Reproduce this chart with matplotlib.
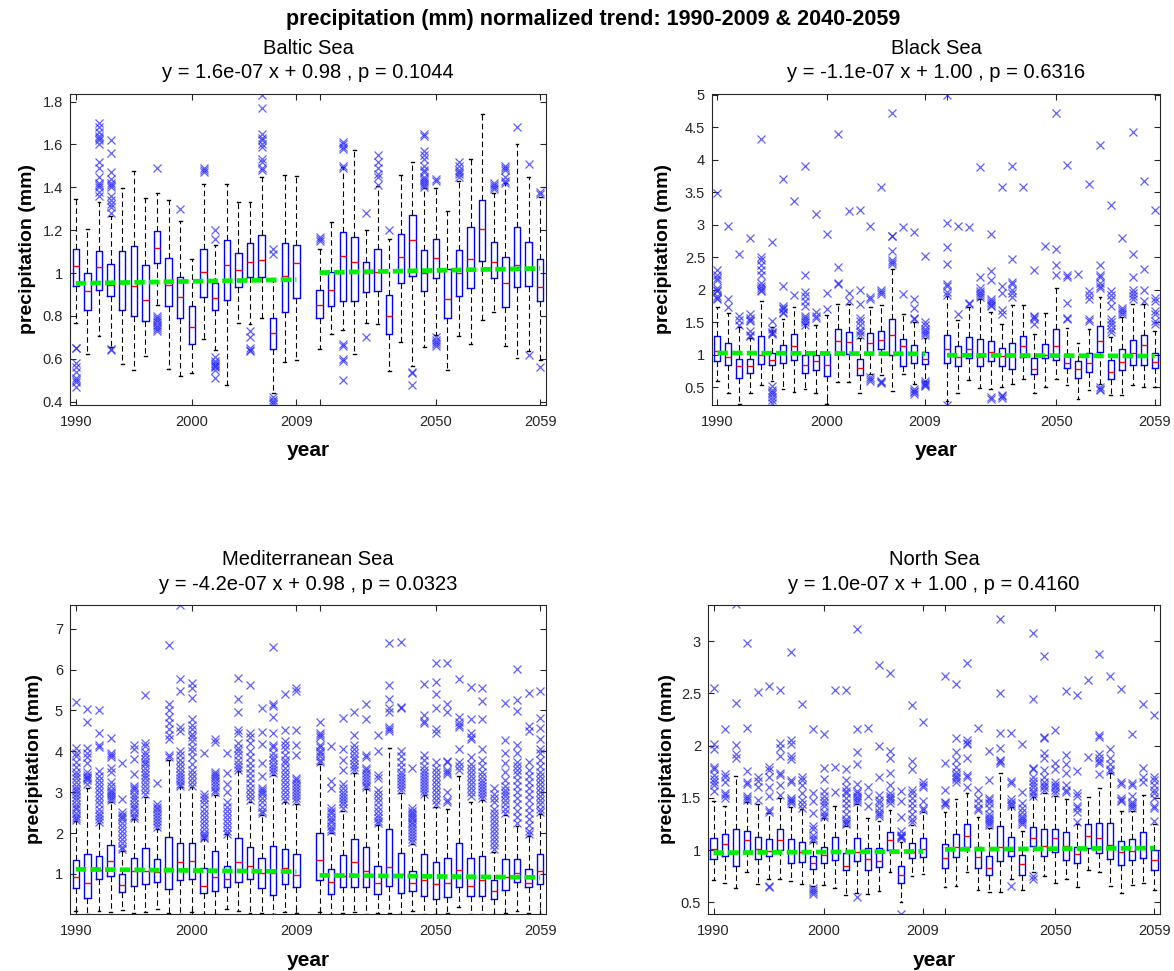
# Normalized precipitation boxplots for four seas, 1990-2009 and 2040-2059.
import matplotlib
matplotlib.use("Agg")
import matplotlib.pyplot as plt
from matplotlib.ticker import FormatStrFormatter

plt.rcParams['font.family'] = ['Liberation Sans', 'DejaVu Sans']

# Years shown (two 20-year periods).
years = list(range(1990, 2010)) + list(range(2040, 2060))
trend_years = [1990, 2009, 2040, 2059]
tick_years = [1990, 2000, 2009, 2040, 2050, 2059]
tick_labels = ['1990', '2000', '2009', '', '2050', '2059']

# ---------------- Baltic Sea ----------------
baltic_q1 = [0.938, 0.829, 0.922, 0.891, 0.826, 0.798, 0.775, 1.048, 0.846, 0.792,
             0.668, 0.890, 0.826, 0.876, 0.935, 0.981, 0.981, 0.645, 0.819, 0.884,
             0.792, 0.845, 0.868, 0.868, 0.912, 0.916, 0.718, 0.953, 0.986, 0.916,
             0.977, 0.791, 0.891, 0.932, 1.056, 0.977, 0.842, 0.935, 0.938, 0.868]
baltic_med = [1.033, 0.916, 1.028, 0.946, 0.955, 0.940, 0.873, 1.118, 0.946, 0.890,
              0.749, 1.005, 0.884, 1.039, 1.016, 1.053, 1.059, 0.722, 0.986, 1.047,
              0.850, 0.922, 1.079, 1.054, 1.000, 1.005, 0.798, 1.076, 1.152, 1.000,
              1.070, 0.881, 1.000, 1.065, 1.205, 1.054, 0.953, 1.040, 1.020, 0.935]
baltic_q3 = [1.113, 1.000, 1.102, 1.043, 1.102, 1.124, 1.036, 1.195, 1.070, 0.981,
             0.848, 1.112, 0.953, 1.155, 1.096, 1.140, 1.178, 0.791, 1.140, 1.133,
             0.922, 1.005, 1.190, 1.167, 1.054, 1.113, 0.900, 1.183, 1.271, 1.109,
             1.157, 1.020, 1.109, 1.217, 1.341, 1.144, 1.074, 1.214, 1.144, 1.064]
baltic_lo = [0.767, 0.625, 0.705, 0.656, 0.578, 0.547, 0.612, 0.850, 0.553, 0.519,
             0.532, 0.695, 0.640, 0.478, 0.767, 0.764, 0.792, 0.439, 0.586, 0.594,
             0.645, 0.718, 0.733, 0.625, 0.767, 0.764, 0.543, 0.679, 0.567, 0.656,
             0.710, 0.547, 0.705, 0.671, 0.780, 0.819, 0.660, 0.606, 0.637, 0.597]
baltic_hi = [1.347, 1.205, 1.333, 1.267, 1.395, 1.477, 1.349, 1.372, 1.341, 1.242,
             1.067, 1.415, 1.129, 1.417, 1.330, 1.330, 1.446, 0.961, 1.457, 1.454,
             1.113, 1.240, 1.496, 1.575, 1.200, 1.408, 1.160, 1.457, 1.516, 1.398,
             1.395, 1.291, 1.431, 1.532, 1.741, 1.372, 1.419, 1.602, 1.446, 1.353]
baltic_out = [
    [0.65, 0.65, 0.58, 0.56, 0.54, 0.51, 0.50, 0.49, 0.47], [],
    [1.70, 1.68, 1.66, 1.64, 1.63, 1.62, 1.60, 1.52, 1.49, 1.45, 1.42, 1.41, 1.40, 1.38, 1.36],
    [1.62, 1.56, 1.47, 1.44, 1.42, 1.41, 1.40, 1.36, 1.34, 1.32, 1.31, 1.28, 0.645, 0.64],
    [], [], [], [1.49, 0.80, 0.79, 0.78, 0.77, 0.76, 0.75, 0.74, 0.73], [], [1.30],
    [], [1.49, 1.48, 1.47], [1.20, 1.16, 0.61, 0.59, 0.58, 0.57, 0.565, 0.56, 0.55, 0.51],
    [], [], [0.73, 0.70, 0.65, 0.64, 0.635],
    [1.83, 1.77, 1.65, 1.63, 1.62, 1.60, 1.59, 1.53, 1.52, 1.49, 1.48],
    [1.11, 1.09, 0.42, 0.41, 0.40, 0.39], [], [],
    [1.17, 1.16, 1.15], [], [1.61, 1.60, 1.59, 1.58, 1.50, 1.49, 0.67, 0.66, 0.60, 0.59, 0.50],
    [], [1.28, 0.70], [1.55, 1.52, 1.49, 1.46, 1.45, 1.41], [1.20], [], [0.54, 0.535, 0.48],
    [1.65, 1.64, 1.57, 1.55, 1.53, 1.50, 1.48, 1.47, 1.45, 1.44, 1.43, 1.42, 1.41, 1.40],
    [1.44, 1.43, 0.70, 0.69, 0.68, 0.67, 0.66], [], [1.52, 1.50, 1.48, 1.47, 1.46, 1.45],
    [], [], [1.42, 1.41, 1.40, 1.39], [1.50, 1.49, 1.48, 1.45, 1.43, 1.42], [1.68],
    [1.51, 0.62], [1.38, 1.37, 0.56]]
baltic_trend = [0.952, 0.970, 1.002, 1.022]

# ---------------- Black Sea ----------------
black_q1 = [0.896, 0.834, 0.639, 0.716, 0.855, 0.834, 0.876, 0.912, 0.716, 0.757,
            0.670, 1.014, 1.014, 0.690, 1.014, 1.092, 0.989, 0.824, 0.876, 0.860,
            0.876, 0.824, 0.948, 0.824, 0.896, 0.824, 0.783, 0.960, 0.706, 0.948,
            0.912, 0.793, 0.644, 0.731, 1.040, 0.628, 0.757, 0.844, 0.844, 0.798]
black_med = [1.056, 0.963, 0.824, 0.824, 1.000, 0.922, 1.025, 1.133, 0.845, 0.896,
             0.845, 1.210, 1.194, 0.793, 1.184, 1.220, 1.308, 1.133, 1.025, 0.937,
             1.081, 0.963, 1.081, 0.970, 1.040, 0.973, 0.980, 1.140, 0.783, 1.000,
             1.133, 0.876, 0.773, 0.876, 1.210, 0.731, 0.885, 1.029, 1.142, 0.885]
black_q3 = [1.282, 1.184, 0.937, 0.927, 1.282, 1.025, 1.143, 1.313, 0.989, 0.999,
            1.014, 1.390, 1.349, 0.937, 1.333, 1.364, 1.555, 1.236, 1.143, 1.040,
            1.297, 1.133, 1.272, 1.246, 1.210, 1.102, 1.184, 1.280, 0.948, 1.169,
            1.390, 1.004, 0.901, 1.030, 1.441, 0.911, 1.090, 1.229, 1.306, 1.029]
black_lo = [0.587, 0.413, 0.243, 0.413, 0.526, 0.600, 0.474, 0.423, 0.474, 0.413,
            0.243, 0.577, 0.577, 0.413, 0.700, 0.680, 0.433, 0.706, 0.550, 0.600,
            0.294, 0.413, 0.613, 0.485, 0.464, 0.500, 0.551, 0.629, 0.413, 0.500,
            0.629, 0.526, 0.320, 0.459, 0.550, 0.372, 0.372, 0.526, 0.500, 0.500]
black_hi = [1.735, 1.647, 1.426, 1.250, 1.832, 1.426, 1.555, 1.735, 1.477, 1.462,
            1.606, 1.786, 1.786, 1.250, 1.735, 1.760, 2.310, 1.632, 1.503, 1.250,
            1.904, 1.529, 1.735, 1.853, 1.657, 1.477, 1.770, 1.760, 1.323, 1.647,
            2.028, 1.416, 1.184, 1.400, 1.889, 1.270, 1.580, 1.774, 1.774, 1.358]
black_out = [
    [3.49, 2.30, 2.22, 2.18, 2.15, 2.02, 2.00, 1.98, 1.90, 1.87, 1.85], [2.98, 1.85, 1.73],
    [2.55, 1.60, 1.53, 1.46], [2.80, 1.63, 1.56, 1.53, 1.52, 1.36, 1.30, 1.28],
    [4.32, 2.50, 2.45, 2.38, 2.30, 2.22, 2.10, 2.05, 2.02, 2.00, 1.98],
    [2.73, 1.52, 1.40, 1.35, 1.33, 1.32, 0.52, 0.45, 0.42, 0.40, 0.35, 0.30, 0.25],
    [3.70, 2.05, 1.75, 1.72, 1.70, 1.66, 1.64], [3.37, 1.92],
    [3.90, 2.22, 1.97, 1.90, 1.83, 1.75, 1.60, 1.57, 1.53, 1.50, 1.45], [3.17, 1.65, 1.60, 1.57],
    [2.85, 1.95, 1.70], [4.40, 2.35, 2.10, 2.08], [3.21, 1.95, 1.82],
    [3.23, 2.00, 1.78, 1.57, 1.52, 1.45, 1.38, 1.35, 1.30], [2.98, 1.88, 1.85, 0.65, 0.62, 0.60],
    [3.58, 2.00, 1.97, 1.93, 0.60, 0.58, 0.57], [4.71, 2.83, 2.82, 2.60, 2.45, 2.42, 2.40],
    [2.96, 1.93], [2.89, 1.85, 1.72, 1.57, 1.55, 0.47, 0.44, 0.42, 0.40],
    [2.52, 1.50, 1.45, 1.40, 1.37, 1.33, 1.30, 0.59, 0.57, 0.55, 0.53, 0.51],
    [5.00, 3.02, 2.65, 2.40, 2.08, 2.05, 1.96, 1.92, 0.23], [2.98, 1.62], [2.96, 1.80, 1.78],
    [3.88, 2.20, 2.02, 1.98, 1.95, 1.92, 1.88],
    [2.85, 2.28, 2.15, 1.85, 1.82, 1.80, 1.77, 1.75, 0.35, 0.32],
    [3.58, 2.05, 1.95, 1.68, 1.62, 0.38, 0.36, 0.34], [3.90, 2.47, 2.12, 2.08, 2.00, 1.95, 1.88],
    [3.58], [2.30, 1.60, 1.58, 1.55, 1.47], [2.67], [4.72, 2.63, 2.38, 2.23],
    [3.92, 2.22, 2.20, 1.80, 1.57, 1.55], [2.24], [3.62, 1.98, 1.92, 1.85, 1.55, 1.52],
    [4.23, 2.38, 2.23, 2.20, 2.10, 2.05, 2.02, 0.50, 0.47, 0.45],
    [3.30, 1.98, 1.92, 1.85, 1.75, 1.55, 1.50, 1.45, 1.40, 1.35], [2.80, 1.72, 1.68, 1.65, 1.62],
    [4.42, 2.55, 2.20, 2.00, 1.95, 1.90, 1.85], [3.67, 2.32, 2.00, 1.82],
    [3.23, 1.87, 1.82, 1.67, 1.63, 1.52, 1.47]]
black_trend = [1.025, 1.012, 0.991, 0.978]

# ---------------- Mediterranean Sea ----------------
med_q1 = [0.65, 0.41, 0.88, 0.96, 0.55, 0.70, 0.755, 0.81, 0.62, 0.85,
          0.88, 0.54, 0.59, 0.67, 0.80, 0.88, 0.65, 0.49, 0.755, 0.67,
          0.85, 0.51, 0.69, 0.69, 0.69, 0.51, 0.71, 0.54, 0.58, 0.47,
          0.38, 0.43, 0.67, 0.46, 0.46, 0.39, 0.61, 0.80, 0.67, 0.755]
med_med = [0.935, 0.77, 1.10, 1.31, 0.73, 1.08, 1.08, 1.05, 1.14, 1.29,
           1.31, 0.715, 0.92, 0.88, 1.29, 1.19, 1.02, 1.03, 1.15, 0.98,
           1.33, 0.80, 0.95, 1.29, 1.06, 0.77, 1.18, 1.00, 0.79, 0.85,
           0.76, 0.79, 1.10, 0.715, 0.86, 0.59, 0.92, 1.02, 0.77, 1.06]
med_q3 = [1.34, 1.49, 1.45, 1.72, 1.00, 1.39, 1.63, 1.37, 1.90, 1.76,
          1.76, 1.15, 1.55, 1.20, 1.88, 1.65, 1.39, 1.68, 1.60, 1.49,
          2.01, 1.11, 1.46, 1.85, 1.67, 1.20, 2.09, 1.52, 1.07, 1.49,
          1.29, 1.38, 1.75, 1.38, 1.44, 0.84, 1.37, 1.37, 1.11, 1.49]
med_lo = [0.10, 0.03, 0.10, 0.08, 0.12, 0.05, 0.07, 0.15, 0.05, 0.02,
          0.06, 0.03, 0.02, 0.15, 0.10, 0.05, 0.05, 0.03, 0.07, 0.05,
          0.06, 0.02, 0.04, 0.06, 0.03, 0.04, 0.04, 0.03, 0.10, 0.02,
          0.02, 0.05, 0.18, 0.03, 0.02, 0.02, 0.04, 0.09, 0.04, 0.03]
med_hi = [2.29, 3.10, 2.24, 2.77, 1.555, 2.35, 2.89, 2.10, 3.80, 3.12,
          3.12, 1.85, 2.92, 1.98, 3.51, 2.75, 2.43, 3.41, 2.77, 2.70,
          3.70, 2.01, 2.55, 3.46, 3.07, 2.20, 4.09, 2.99, 1.73, 2.93,
          2.63, 2.60, 3.40, 2.77, 2.82, 1.53, 2.43, 2.18, 1.94, 2.47]
med_out = [
    [5.20, 4.07, 3.95, 3.88, 3.75, 3.62, 3.50, 3.42, 3.35, 3.25, 3.15, 3.08, 3.02, 2.95, 2.88,
     2.80, 2.72, 2.65, 2.58, 2.50, 2.42, 2.36, 2.33],
    [5.03, 4.72, 4.07, 3.95, 3.85, 3.72, 3.50, 3.42, 3.38, 3.35, 3.30, 3.20],
    [5.00, 4.45, 4.15, 4.10, 3.52, 3.40, 3.30, 3.20, 3.10, 3.00, 2.90, 2.80, 2.70, 2.60, 2.50,
     2.42, 2.35, 2.28],
    [4.32, 3.95, 3.90, 3.85, 3.60, 3.50, 3.25, 3.15, 3.05, 3.00, 2.95, 2.90, 2.85, 2.80],
    [3.72, 2.83, 2.52, 2.45, 2.40, 2.35, 2.25, 2.15, 2.05, 1.95, 1.85, 1.75, 1.65, 1.60],
    [4.15, 4.05, 3.82, 3.45, 3.15, 3.10, 3.05, 2.95, 2.88, 2.80, 2.72, 2.65, 2.58, 2.50, 2.42, 2.38],
    [5.38, 4.20, 4.12, 3.98, 3.90, 3.82, 3.75, 3.68, 3.60, 3.50, 3.42, 3.35, 3.25, 3.15, 3.05, 2.95],
    [3.22, 2.70, 2.65, 2.60, 2.52, 2.45, 2.38, 2.30, 2.22, 2.15],
    [6.60, 5.15, 5.00, 4.85, 4.70, 4.55, 4.40, 4.30, 3.90, 3.85],
    [7.57, 5.78, 5.48, 4.60, 4.50, 4.00, 3.90, 3.80, 3.70, 3.60, 3.50, 3.42, 3.35, 3.28, 3.20, 3.15],
    [5.68, 5.55, 5.30, 4.78, 4.65, 4.55, 4.42, 4.35, 4.25, 4.10, 4.00, 3.85, 3.70, 3.55, 3.45,
     3.35, 3.25, 3.15],
    [3.97, 2.95, 2.88, 2.80, 2.70, 2.60, 2.50, 2.40, 2.30, 2.20, 2.10, 2.00, 1.95, 1.90, 1.87],
    [4.30, 4.22, 3.50, 3.45, 3.40, 3.35, 3.28, 3.20, 3.12, 3.05, 3.00],
    [3.95, 3.48, 3.20, 3.00, 2.75, 2.65, 2.55, 2.45, 2.35, 2.25, 2.15, 2.05, 1.98],
    [5.80, 5.28, 4.97, 4.52, 4.45, 4.20, 4.08, 4.00, 3.90, 3.80, 3.70, 3.62, 3.55],
    [5.63, 4.45, 4.35, 4.20, 4.00, 3.85, 3.72, 3.60, 3.48, 3.35, 3.22, 3.10, 3.00, 2.90, 2.80],
    [5.05, 4.48, 4.17, 3.72, 3.40, 3.10, 3.05, 3.00, 2.95, 2.85, 2.75, 2.65, 2.55, 2.48],
    [6.55, 5.15, 5.10, 4.85, 4.45, 4.15, 4.10, 3.95, 3.85, 3.78, 3.70, 3.62, 3.55, 3.48],
    [5.40, 4.52, 4.25, 4.15, 4.05, 3.90, 3.80, 3.72, 3.60, 3.50, 3.40, 3.30, 3.20, 3.10, 3.00,
     2.90, 2.82],
    [5.55, 5.48, 4.53, 4.15, 3.92, 3.35, 3.30, 3.22, 3.15, 3.08, 3.00, 2.92, 2.85, 2.78],
    [4.72, 4.45, 4.40, 4.35, 4.15, 4.10, 4.02, 3.95, 3.88, 3.80, 3.74],
    [4.12, 3.28, 3.10, 2.62, 2.55, 2.48, 2.40, 2.33, 2.26, 2.18, 2.10, 2.04],
    [4.82, 4.05, 3.80, 3.55, 3.20, 3.10, 3.00, 2.92, 2.85, 2.78, 2.70, 2.62],
    [4.95, 4.40, 4.15, 4.05, 3.95, 3.85, 3.78, 3.70, 3.62, 3.55],
    [5.17, 4.80, 3.90, 3.85, 3.60, 3.55, 3.48, 3.40, 3.32, 3.25, 3.18, 3.12],
    [4.40, 4.02, 3.43, 3.35, 3.05, 2.95, 2.85, 2.75, 2.65, 2.55, 2.45, 2.38, 2.30, 2.25],
    [6.65, 5.62, 5.28, 5.05, 4.95, 4.60, 4.55, 4.50],
    [6.68, 5.08, 5.05, 4.00, 3.88, 3.75, 3.62, 3.50, 3.42, 3.35, 3.28, 3.20, 3.12, 3.05],
    [3.58, 2.62, 2.55, 2.50, 2.45, 2.40, 2.35, 2.28, 2.22, 2.15, 2.08, 2.00, 1.92, 1.85, 1.78],
    [5.65, 4.88, 4.75, 4.70, 3.90, 3.80, 3.65, 3.55, 3.48, 3.40, 3.32, 3.25, 3.18, 3.10, 3.02, 2.95],
    [6.15, 5.70, 5.40, 5.05, 4.55, 4.45, 3.75, 3.60, 3.50, 3.40, 3.30, 3.20, 3.10, 3.00, 2.90,
     2.80, 2.70],
    [6.15, 5.17, 4.95, 3.77, 3.75, 3.55, 3.50, 3.45, 3.00, 2.80, 2.75],
    [5.78, 4.85, 4.72, 4.65, 4.60, 4.05, 3.75, 3.65, 3.55],
    [5.58, 4.78, 4.45, 4.35, 4.30, 3.85, 3.70, 3.60, 3.50, 3.40, 3.30, 3.20, 3.10, 3.00, 2.90],
    [5.55, 5.22, 4.78, 4.05, 3.78, 3.65, 3.50, 3.40, 3.30, 3.22, 3.15, 3.08, 3.00, 2.92, 2.85],
    [3.10, 2.95, 2.85, 2.75, 2.60, 2.50, 2.40, 2.30, 2.20, 2.10, 2.00, 1.90, 1.80, 1.70, 1.60],
    [5.18, 4.27, 3.95, 3.72, 3.50, 3.30, 3.15, 3.05, 2.98, 2.90, 2.80, 2.70, 2.60, 2.50],
    [6.02, 5.25, 4.98, 4.15, 3.95, 3.75, 3.65, 3.55, 3.45, 3.30, 3.15, 3.00, 2.85, 2.70, 2.55,
     2.40, 2.25],
    [5.42, 4.62, 4.50, 3.75, 3.55, 3.40, 3.25, 3.10, 2.95, 2.80, 2.65, 2.50, 2.35, 2.20, 2.05, 1.97],
    [5.47, 4.82, 4.57, 4.30, 4.05, 3.95, 3.80, 3.65, 3.50, 3.40, 3.30, 3.20, 3.10, 3.00, 2.90,
     2.80, 2.70, 2.60, 2.52]]
med_trend = [1.115, 1.057, 0.967, 0.915]

# ---------------- North Sea ----------------
north_q1 = [0.914, 0.940, 0.853, 0.997, 0.914, 0.940, 1.003, 0.876, 0.885, 0.818,
            0.876, 0.908, 0.812, 0.898, 0.812, 0.838, 1.003, 0.685, 0.930, 0.933,
            0.834, 0.933, 1.029, 0.828, 0.764, 0.898, 0.946, 0.764, 1.045, 0.946,
            0.981, 0.908, 0.876, 1.019, 0.971, 0.913, 0.859, 0.903, 0.922, 0.811]
north_med = [1.013, 1.057, 0.980, 1.099, 1.010, 0.990, 1.099, 0.980, 0.980, 0.876,
             0.955, 0.990, 0.853, 0.980, 0.914, 0.901, 1.099, 0.764, 0.981, 1.013,
             0.924, 1.035, 1.137, 0.933, 0.834, 1.030, 0.995, 0.869, 1.115, 1.040,
             1.115, 1.045, 0.965, 1.137, 1.115, 1.050, 0.986, 0.992, 1.020, 0.907]
north_q3 = [1.121, 1.153, 1.200, 1.185, 1.131, 1.105, 1.200, 1.105, 1.076, 0.940,
            1.035, 1.124, 0.978, 1.115, 1.019, 1.019, 1.172, 0.853, 1.067, 1.115,
            1.057, 1.156, 1.248, 1.035, 0.946, 1.236, 1.131, 0.955, 1.220, 1.200,
            1.200, 1.178, 1.035, 1.248, 1.258, 1.256, 1.088, 1.104, 1.173, 1.002]
north_lo = [0.717, 0.691, 0.637, 0.796, 0.678, 0.723, 0.723, 0.710, 0.678, 0.660,
            0.669, 0.637, 0.567, 0.589, 0.580, 0.611, 0.790, 0.500, 0.755, 0.774,
            0.646, 0.662, 0.787, 0.621, 0.599, 0.599, 0.723, 0.621, 0.790, 0.755,
            0.691, 0.723, 0.646, 0.812, 0.796, 0.659, 0.589, 0.668, 0.684, 0.621]
north_hi = [1.471, 1.427, 1.710, 1.459, 1.443, 1.354, 1.497, 1.417, 1.392, 1.080,
            1.306, 1.424, 1.232, 1.443, 1.306, 1.283, 1.385, 1.080, 1.242, 1.370,
            1.363, 1.490, 1.551, 1.315, 1.210, 1.742, 1.417, 1.185, 1.513, 1.545,
            1.519, 1.487, 1.252, 1.513, 1.592, 1.739, 1.374, 1.374, 1.532, 1.247]
north_out = [
    [2.55, 2.02, 1.97, 1.80, 1.78, 1.72, 1.68, 1.65, 1.62, 1.57], [2.16, 1.73, 1.70, 1.65, 1.55, 1.53, 1.50],
    [3.35, 2.41, 2.01, 1.92, 1.88], [2.98, 2.17, 1.76, 1.65, 1.63, 1.52, 1.50, 1.48],
    [2.51, 1.70, 1.66, 1.60, 1.48], [2.57, 1.80, 1.77, 1.70, 1.60, 1.52, 1.38, 1.37, 0.66, 0.65],
    [2.53, 2.03, 1.98, 1.90, 1.74, 1.72, 1.62, 1.53],
    [2.90, 2.05, 2.02, 1.90, 1.87, 1.67, 1.65, 1.50, 1.48, 1.47, 1.45],
    [2.40, 1.70, 1.67, 1.62, 1.55, 1.48, 1.44, 1.40],
    [2.16, 1.55, 1.47, 1.36, 1.23, 1.20, 1.15, 1.12, 1.10, 0.64, 0.62, 0.60, 0.58],
    [2.11, 1.79, 1.68, 1.57, 1.52, 1.48, 1.45, 1.42, 1.37, 1.34, 1.32], [2.53, 1.80, 1.56],
    [2.53, 1.78, 1.67, 1.60, 1.57, 1.55, 1.50, 1.45, 1.40, 1.35, 1.30, 1.28, 1.26, 1.25],
    [3.12, 2.16, 1.94, 1.82, 1.63, 1.57, 1.55, 1.52, 1.50, 1.48, 1.46, 0.55],
    [2.17, 1.60, 1.52, 1.42], [2.77, 2.00, 1.70, 1.53, 1.48, 1.45, 1.40, 1.37, 1.35, 1.33],
    [2.69, 1.95, 1.88, 1.74, 1.62, 1.55, 1.52, 1.50, 1.48, 1.45],
    [1.57, 1.47, 1.32, 1.18, 1.15, 1.14, 1.13, 1.12, 0.39],
    [2.39, 1.85, 1.78, 1.58, 1.55, 1.50, 1.45, 1.40, 1.35, 1.30, 1.27],
    [2.23, 1.65, 1.62, 1.60, 1.47, 1.40, 1.38],
    [2.67, 1.83, 1.58, 1.46, 1.45, 1.43],
    [2.59, 2.07, 1.94, 1.86, 1.80, 1.75, 1.72, 1.70, 1.68, 1.65],
    [2.79, 2.05, 2.03, 2.02, 1.88, 1.72, 1.70, 1.60], [2.17, 1.58, 1.50, 1.45, 1.40, 1.38],
    [1.95, 1.67, 1.50, 1.48, 1.45, 1.40, 1.35, 1.32, 1.30, 1.28, 1.26, 1.24],
    [3.21, 2.50, 2.12, 1.98, 1.86, 1.85, 1.83], [2.12, 1.66, 1.64, 1.49, 1.46, 1.44, 1.42, 0.66],
    [2.02, 1.56, 1.45, 1.40, 1.37, 1.33, 1.31, 1.29, 1.27, 1.25],
    [3.08, 2.45, 1.79, 1.78, 1.70, 1.66, 1.63, 1.60, 1.57, 1.55, 1.52, 0.75, 0.72],
    [2.86, 2.08, 2.07, 1.93, 1.88, 1.77, 1.70, 1.65, 1.62, 1.60, 1.58],
    [2.15, 1.83, 1.78, 1.65, 1.62, 1.60, 1.58, 1.55], [2.52, 1.91, 1.82, 1.74, 1.62, 1.58, 1.56],
    [2.48, 1.76, 1.55, 1.52, 1.42, 1.40, 1.37, 1.27], [2.63, 1.89],
    [2.88, 2.10, 2.08, 1.92, 1.88, 1.85, 1.83, 1.73], [2.67, 1.97, 1.88, 1.82, 1.78, 1.76],
    [2.54, 1.65, 1.63, 1.50, 1.48, 1.47], [2.11, 1.64, 1.62, 1.52, 1.46, 1.44, 1.42, 1.40],
    [2.40, 1.79, 1.70, 1.65], [2.29, 1.70, 1.67, 1.62, 1.58, 1.55, 1.50, 1.42, 1.40, 1.28]]
north_trend = [0.976, 0.988, 1.008, 1.020]


def year_pos(y):
    # boxes are numbered 1..20 for 1990-2009, then one empty slot, 22..41 for 2040-2059
    return y - 1989 if y < 2020 else y - 2040 + 22


fig = plt.figure(figsize=(11.74, 9.71), dpi=100)
W, H = 1174.0, 971.0

panels = [
    ("Baltic Sea", "y = 1.6e-07 x + 0.98 , p = 0.1044",
     baltic_q1, baltic_med, baltic_q3, baltic_lo, baltic_hi, baltic_out, baltic_trend,
     (70, 94, 546, 405), (0.385, 1.835), [0.4, 0.6, 0.8, 1.0, 1.2, 1.4, 1.6, 1.8], 28, 450),
    ("Black Sea", "y = -1.1e-07 x + 1.00 , p = 0.6316",
     black_q1, black_med, black_q3, black_lo, black_hi, black_out, black_trend,
     (712, 94, 1160, 405), (0.225, 5.01), [0.5, 1, 1.5, 2, 2.5, 3, 3.5, 4, 4.5, 5], 664, 450),
    ("Mediterranean Sea", "y = -4.2e-07 x + 0.98 , p = 0.0323",
     med_q1, med_med, med_q3, med_lo, med_hi, med_out, med_trend,
     (70, 605, 546, 914), (0.02, 7.58), [1, 2, 3, 4, 5, 6, 7], 35, 960),
    ("North Sea", "y = 1.0e-07 x + 1.00 , p = 0.4160",
     north_q1, north_med, north_q3, north_lo, north_hi, north_out, north_trend,
     (708, 605, 1160, 914), (0.39, 3.345), [0.5, 1, 1.5, 2, 2.5, 3], 668, 960),
]

edge = '#262626'
for (name, eq, q1, med, q3, lo, hi, out, trend, box, ylim, yticks, ylab_x, xlab_y) in panels:
    x0, y0, x1, y1 = box
    ax = fig.add_axes([x0 / W, 1 - y1 / H, (x1 - x0) / W, (y1 - y0) / H])
    pos = [year_pos(y) for y in years]
    stats = []
    for i in range(len(years)):
        stats.append(dict(q1=q1[i], med=med[i], q3=q3[i], whislo=lo[i], whishi=hi[i],
                          fliers=out[i]))
    ax.bxp(stats, positions=pos, widths=0.55, capwidths=0.25, showfliers=True,
           manage_ticks=False,
           boxprops=dict(color='#0000ff', linewidth=1.0),
           medianprops=dict(color='#ff0000', linewidth=1.0),
           whiskerprops=dict(color='black', linewidth=0.8, linestyle=(0, (5, 3))),
           capprops=dict(color='black', linewidth=1.0),
           flierprops=dict(marker='x', markeredgecolor='#2a2aff', markersize=5.5,
                           markeredgewidth=0.9, alpha=0.75, linestyle='none'))

    # trend line for each period
    tp = [year_pos(y) for y in trend_years]
    for a, b in [(0, 2), (2, 4)]:
        ax.plot(tp[a:b], trend[a:b], color='#00ee00', linewidth=3.4, dashes=(2.2, 0.9),
                dash_capstyle='butt', zorder=5)

    ax.set_xlim(0.5, 41.5)
    ax.set_ylim(*ylim)
    ax.set_xticks([year_pos(y) for y in tick_years])
    ax.set_xticklabels(tick_labels)
    ax.set_yticks(yticks)
    ax.yaxis.set_major_formatter(FormatStrFormatter('%g'))
    ax.tick_params(direction='in', length=4, width=0.8, top=True, right=True,
                   labelsize=10.5, colors=edge, labelcolor=edge)
    ax.tick_params(axis='x', pad=7)
    ax.tick_params(axis='y', pad=5)
    for s in ax.spines.values():
        s.set_color(edge)
        s.set_linewidth(0.8)

    cx = (x0 + x1) / 2.0
    fig.text(cx / W, 1 - (y0 - 46) / H, name, ha='center', va='center', fontsize=14.5)
    fig.text(cx / W, 1 - (y0 - 21) / H, eq, ha='center', va='center', fontsize=14.5)
    fig.text(ylab_x / W, 1 - ((y0 + y1) / 2.0) / H, 'precipitation (mm)', rotation=90,
             ha='center', va='center', fontsize=14, fontweight='bold')
    fig.text(cx / W, 1 - xlab_y / H, 'year', ha='center', va='center', fontsize=15,
             fontweight='bold')

fig.text(0.505, 1 - 20 / H, 'precipitation (mm) normalized trend: 1990-2009 & 2040-2059',
         ha='center', va='center', fontsize=15.5, fontweight='bold')

fig.savefig('out.png', dpi=100)
